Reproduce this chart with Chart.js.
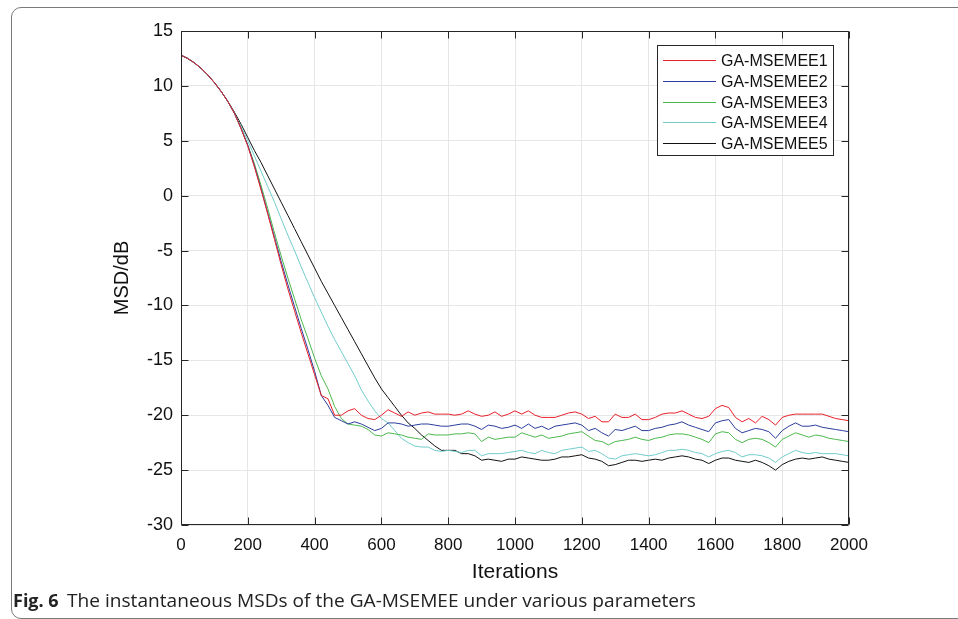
<!DOCTYPE html>
<html>
<head>
<meta charset="utf-8">
<script src="https://cdn.jsdelivr.net/npm/chart.js@4.4.0/dist/chart.umd.min.js"></script>
<style>
  html, body { margin: 0; padding: 0; background: #fff; }
  #wrap { position: relative; width: 958px; height: 619px; overflow: hidden; }
  #frame { position: absolute; left: 11px; top: 7px; width: 1000px; height: 612px;
           border: 1px solid #7a7a7a; border-radius: 10px; box-sizing: border-box; }
  canvas { position: absolute; left: 0; top: 0; }
  #caption { position: absolute; left: 13px; top: 588px; font-family: 'Liberation Sans Narrow', 'Open Sans', sans-serif;
             font-size: 18px; color: #222; white-space: nowrap; }
  #caption b { font-weight: bold; margin-right: 8px; }
</style>
</head>
<body>
<div id="wrap">
  <div id="frame"></div>
  <canvas id="msd-chart" width="958" height="619"></canvas>
  <div id="caption"><b>Fig. 6</b><span id="captext">The instantaneous MSDs of the GA-MSEMEE under various parameters</span></div>
</div>
<script>
// iterations (every 20 samples)
const iterations = [0,20,40,60,80,100,120,140,160,180,200,220,240,260,280,300,320,340,360,380,
  400,420,440,460,480,500,520,540,560,580,600,620,640,660,680,700,720,740,760,780,
  800,820,840,860,880,900,920,940,960,980,1000,1020,1040,1060,1080,1100,1120,1140,1160,1180,
  1200,1220,1240,1260,1280,1300,1320,1340,1360,1380,1400,1420,1440,1460,1480,1500,1520,1540,1560,1580,
  1600,1620,1640,1660,1680,1700,1720,1740,1760,1780,1800,1820,1840,1860,1880,1900,1920,1940,1960,1980,2000];

const seriesNames = ['GA-MSEMEE1', 'GA-MSEMEE2', 'GA-MSEMEE3', 'GA-MSEMEE4', 'GA-MSEMEE5'];
const seriesColors = ['#e8202a', '#2a3d9c', '#4cb84c', '#72cccc', '#111111'];

const msd1 = [12.8,12.5,12.1,11.6,11.0,10.3,9.5,8.6,7.5,6.1,4.5,2.6,0.5,-1.7,-4.0,-6.3,-8.5,-10.5,-12.5,-14.4,
  -16.3,-18.2,-18.5,-20.0,-20.0,-19.6,-19.4,-20.0,-20.3,-20.4,-20.0,-19.5,-19.8,-20.1,-19.7,-20.0,-19.8,-19.7,-19.9,-19.9,
  -19.9,-20.0,-19.9,-19.6,-19.9,-20.1,-20.0,-19.7,-20.1,-19.9,-19.6,-19.9,-19.6,-20.0,-20.2,-20.2,-20.2,-20.0,-19.8,-19.7,
  -19.9,-20.3,-20.1,-20.6,-20.6,-19.9,-20.2,-20.2,-19.9,-20.4,-20.4,-20.2,-19.9,-19.8,-19.8,-19.6,-19.9,-20.2,-20.3,-20.1,
  -19.4,-19.1,-19.3,-20.2,-20.6,-20.3,-20.7,-20.1,-20.4,-20.9,-20.2,-20.0,-19.9,-19.9,-19.9,-19.9,-19.9,-20.1,-20.3,-20.4,-20.5];

const msd2 = [12.8,12.5,12.1,11.6,11.0,10.3,9.5,8.6,7.5,6.1,4.6,2.7,0.6,-1.6,-3.8,-6.0,-8.1,-10.1,-12.1,-14.0,
  -16.0,-18.2,-19.1,-20.2,-20.5,-20.8,-20.6,-20.8,-21.1,-21.4,-21.2,-20.7,-20.7,-20.8,-21.0,-20.9,-20.8,-20.8,-20.9,-21.0,
  -21.0,-20.9,-20.8,-20.8,-21.0,-21.3,-20.9,-21.0,-21.2,-21.1,-20.9,-21.2,-20.8,-21.2,-21.0,-21.3,-21.0,-20.9,-20.8,-20.7,
  -20.9,-21.4,-21.2,-21.6,-21.9,-21.3,-21.4,-21.2,-21.0,-21.4,-21.4,-21.2,-21.1,-20.9,-20.8,-20.6,-20.9,-21.1,-21.3,-21.5,
  -20.7,-20.5,-20.4,-21.2,-21.6,-21.4,-21.2,-21.3,-21.5,-22.1,-21.4,-21.0,-20.7,-21.0,-21.0,-20.9,-21.1,-21.2,-21.3,-21.4,-21.5];

const msd3 = [12.8,12.5,12.1,11.6,11.0,10.3,9.5,8.6,7.5,6.1,4.6,2.9,0.9,-1.2,-3.4,-5.5,-7.5,-9.4,-11.3,-13.0,
  -14.8,-16.4,-17.6,-19.2,-20.3,-20.8,-20.9,-21.0,-21.3,-21.8,-21.9,-21.6,-21.7,-21.8,-22.0,-22.1,-22.2,-21.7,-21.8,-21.8,
  -21.8,-21.7,-21.7,-21.6,-21.7,-22.4,-22.0,-22.2,-22.1,-22.0,-22.0,-21.6,-21.8,-22.0,-21.8,-22.1,-22.0,-21.9,-21.7,-21.6,
  -21.5,-21.9,-22.3,-22.4,-22.7,-22.4,-22.3,-22.2,-22.0,-22.2,-22.3,-22.1,-22.0,-21.8,-21.7,-21.7,-21.8,-22.0,-22.2,-22.5,
  -21.7,-21.5,-21.6,-22.2,-22.5,-22.2,-22.1,-22.2,-22.5,-22.9,-22.2,-21.9,-21.6,-21.8,-22.0,-21.8,-21.9,-22.1,-22.2,-22.3,-22.4];

const msd4 = [12.8,12.5,12.1,11.6,11.0,10.3,9.5,8.6,7.5,6.3,5.0,3.6,2.2,0.8,-0.6,-2.1,-3.6,-5.0,-6.5,-7.9,
  -9.3,-10.6,-11.9,-13.1,-14.2,-15.3,-16.4,-17.7,-18.7,-19.6,-20.3,-20.7,-21.4,-22.1,-22.5,-22.8,-22.9,-22.9,-23.2,-23.3,
  -23.2,-23.3,-23.4,-23.2,-23.2,-23.7,-23.5,-23.5,-23.5,-23.4,-23.3,-23.2,-23.4,-23.5,-23.2,-23.4,-23.5,-23.2,-23.1,-23.0,
  -22.9,-23.3,-23.2,-23.5,-23.9,-24.0,-23.7,-23.6,-23.5,-23.6,-23.7,-23.6,-23.4,-23.2,-23.2,-23.1,-23.2,-23.4,-23.5,-23.8,
  -23.5,-23.3,-23.2,-23.4,-23.8,-23.6,-23.6,-23.7,-23.9,-24.3,-23.8,-23.5,-23.2,-23.4,-23.5,-23.4,-23.5,-23.5,-23.5,-23.6,-23.7];

const msd5 = [12.8,12.5,12.1,11.6,11.0,10.3,9.5,8.6,7.6,6.5,5.3,4.1,3.0,1.8,0.6,-0.6,-1.8,-3.0,-4.2,-5.4,
  -6.6,-7.8,-8.9,-10.0,-11.1,-12.2,-13.3,-14.4,-15.5,-16.6,-17.6,-18.4,-19.2,-20.0,-20.7,-21.2,-21.8,-22.3,-22.8,-23.2,
  -23.2,-23.2,-23.5,-23.5,-23.7,-24.1,-24.0,-24.1,-24.2,-24.0,-24.0,-23.8,-23.9,-24.0,-24.1,-24.1,-24.0,-23.8,-23.8,-23.7,
  -23.6,-23.9,-24.0,-24.2,-24.6,-24.5,-24.3,-24.1,-24.1,-24.2,-24.1,-24.0,-24.1,-23.9,-23.8,-23.7,-23.8,-24.0,-24.1,-24.4,
  -24.1,-23.9,-23.9,-24.1,-24.2,-24.3,-24.1,-24.3,-24.6,-25.0,-24.5,-24.2,-24.0,-23.9,-24.0,-23.9,-23.8,-24.0,-24.1,-24.2,-24.3];

const allSeries = [msd1, msd2, msd3, msd4, msd5];

// MATLAB-like box with inward ticks, plus the legend box
const boxPlugin = {
  id: 'boxPlugin',
  afterDraw(chart) {
    const ctx = chart.ctx;
    const a = chart.chartArea;
    const xs = chart.scales.x, ys = chart.scales.y;
    const L = Math.round(a.left) + 0.5, R = Math.round(a.right) - 0.5;
    const T = Math.round(a.top) + 0.5, B = Math.round(a.bottom) - 0.5;
    ctx.save();
    ctx.strokeStyle = '#262626';
    ctx.lineWidth = 1;
    ctx.beginPath();
    ctx.rect(L, T, R - L, B - T);
    xs.ticks.forEach(t => {
      const px = Math.round(xs.getPixelForValue(t.value)) + 0.5;
      ctx.moveTo(px, B); ctx.lineTo(px, B - 7);
      ctx.moveTo(px, T); ctx.lineTo(px, T + 7);
    });
    ys.ticks.forEach(t => {
      const py = Math.round(ys.getPixelForValue(t.value)) + 0.5;
      ctx.moveTo(L, py); ctx.lineTo(L + 7, py);
      ctx.moveTo(R, py); ctx.lineTo(R - 7, py);
    });
    ctx.stroke();

    // legend
    const lx = 657.5, ly = 45.5, lw = 176, lh = 110;
    ctx.fillStyle = '#fff';
    ctx.fillRect(lx, ly, lw, lh);
    ctx.strokeStyle = '#262626';
    ctx.strokeRect(lx, ly, lw, lh);
    ctx.font = '16px "Liberation Sans", Arial, sans-serif';
    ctx.textBaseline = 'middle';
    chart.data.datasets.forEach((ds, i) => {
      const y = Math.round(60 + i * 20.8) + 0.5;
      ctx.strokeStyle = ds.borderColor;
      ctx.beginPath();
      ctx.moveTo(663, y); ctx.lineTo(716, y);
      ctx.stroke();
      ctx.fillStyle = '#111';
      ctx.fillText(ds.label, 721, y + 1);
    });
    ctx.restore();
  }
};

new Chart(document.getElementById('msd-chart'), {
  type: 'line',
  data: {
    datasets: allSeries.map((vals, i) => ({
      label: seriesNames[i],
      data: iterations.map((it, k) => ({ x: it, y: vals[k] })),
      borderColor: seriesColors[i],
      borderWidth: 1,
      pointRadius: 0,
      tension: 0,
      fill: false
    }))
  },
  options: {
    responsive: false,
    animation: false,
    layout: { padding: { left: 106, right: 109, top: 31, bottom: 30 } },
    plugins: { legend: { display: false }, tooltip: { enabled: false } },
    scales: {
      x: {
        type: 'linear', min: 0, max: 2000,
        ticks: { stepSize: 200, padding: 10, color: '#111', maxRotation: 0,
                 callback: v => String(v),
                 font: { family: '"Liberation Sans", Arial, sans-serif', size: 17 } },
        grid: { color: '#e6e6e6', drawTicks: false },
        border: { display: false },
        title: { display: true, text: 'Iterations', color: '#111',
                 font: { family: '"Liberation Sans", Arial, sans-serif', size: 21 } },
        afterFit(scale) { scale.height = 64; }
      },
      y: {
        min: -30, max: 15,
        ticks: { stepSize: 5, padding: 8, color: '#111',
                 font: { family: '"Liberation Sans", Arial, sans-serif', size: 18 } },
        grid: { color: '#e6e6e6', drawTicks: false },
        border: { display: false },
        title: { display: true, text: 'MSD/dB', color: '#111',
                 font: { family: '"Liberation Sans", Arial, sans-serif', size: 20 } },
        afterFit(scale) { scale.width = 75; }
      }
    }
  },
  plugins: [boxPlugin]
});

// squeeze caption to the reference width
const cap = document.getElementById('captext');
cap.style.display = 'inline-block';
cap.style.transformOrigin = 'left center';
const w = cap.getBoundingClientRect().width;
cap.style.transform = 'scaleX(' + (629 / w).toFixed(3) + ')';
</script>
</body>
</html>
